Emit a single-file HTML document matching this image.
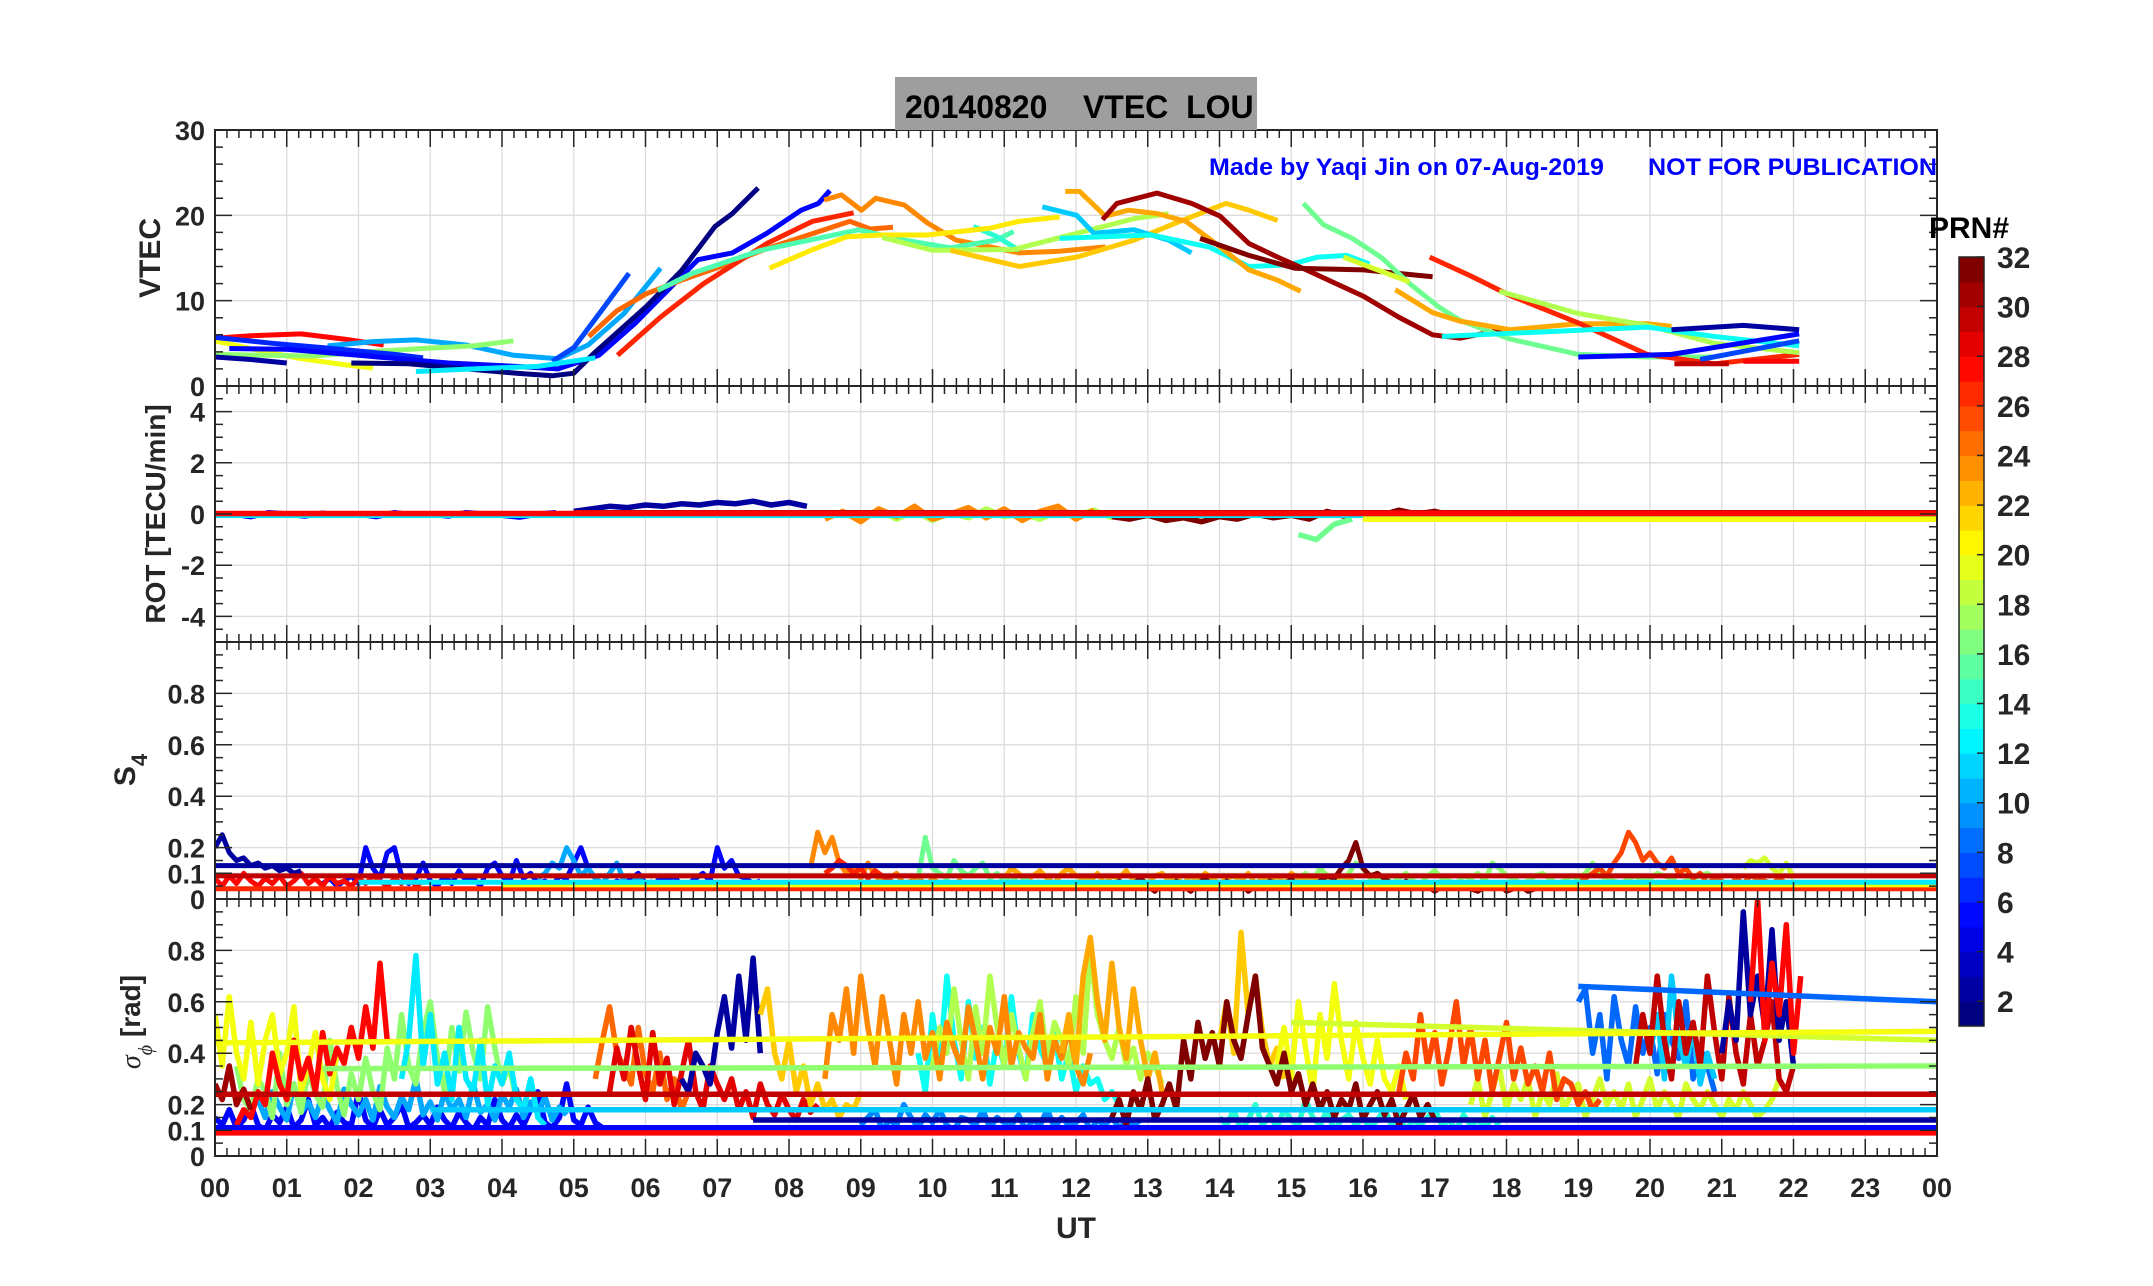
<!DOCTYPE html>
<html><head><meta charset="utf-8"><title>VTEC LOU 20140820</title>
<style>
html,body{margin:0;padding:0;background:#fff;}
svg{display:block;}
text{font-family:"Liberation Sans Narrow","Liberation Sans",sans-serif;font-weight:bold;}
</style></head>
<body>
<svg id="chart" xmlns="http://www.w3.org/2000/svg" width="2153" height="1286" viewBox="0 0 2153 1286">
<rect x="0" y="0" width="2153" height="1286" fill="#fff"/>
<g id="grid"></g>
<g id="series"></g>
<g id="axes"></g>
<g>
<rect x="895" y="77" width="362" height="53" fill="#9e9e9e"/>
<text x="905" y="118" font-size="32" fill="#000" style="font-family:'Liberation Sans',sans-serif" xml:space="preserve">20140820    VTEC  LOU</text>
</g>
<text x="1209" y="175" font-size="24" fill="#0000ff" textLength="395" lengthAdjust="spacingAndGlyphs">Made by Yaqi Jin on 07-Aug-2019</text>
<text x="1648" y="175" font-size="24" fill="#0000ff" textLength="289" lengthAdjust="spacingAndGlyphs" style="font-family:'Liberation Sans',sans-serif">NOT FOR PUBLICATION</text>
<text transform="translate(160,258) rotate(-90)" text-anchor="middle" font-size="30" fill="#262626" style="font-family:'Liberation Sans',sans-serif">VTEC</text>
<text transform="translate(165,514) rotate(-90)" text-anchor="middle" font-size="28" fill="#262626" style="font-family:'Liberation Sans',sans-serif">ROT [TECU/min]</text>
<text transform="translate(135,770) rotate(-90)" text-anchor="middle" font-size="30" fill="#262626" style="font-family:'Liberation Sans',sans-serif">S<tspan font-size="22" dy="12">4</tspan></text>
<text transform="translate(140,1022) rotate(-90)" text-anchor="middle" font-size="28" fill="#262626" style="font-family:'Liberation Sans',sans-serif"><tspan font-family="'Liberation Serif',serif" font-style="italic" font-weight="normal">σ</tspan><tspan font-size="20" dy="12" font-family="'Liberation Serif',serif" font-style="italic" font-weight="normal">ϕ</tspan><tspan dy="-12"> [rad]</tspan></text>
<text x="1076" y="1238" text-anchor="middle" font-size="30" fill="#262626" style="font-family:'Liberation Sans',sans-serif">UT</text>
<g id="cbar"></g>
<text x="1929" y="238" font-size="30" fill="#000" style="font-family:'Liberation Sans',sans-serif">PRN#</text>
</svg>
<script>
// ---------- data ----------
const hourTicks = ["00","01","02","03","04","05","06","07","08","09","10","11","12","13","14","15","16","17","18","19","20","21","22","23","00"];
const vtecTicks = [0,10,20,30];
const rotTicks = [-4,-2,0,2,4];
const rotTickLabels = ["-4","-2","0","2","4"];
const s4Ticks = [0,0.1,0.2,0.4,0.6,0.8];
const s4TickLabels = ["0","0.1","0.2","0.4","0.6","0.8"];
const sigTicks = [0,0.1,0.2,0.4,0.6,0.8];
const sigTickLabels = ["0","0.1","0.2","0.4","0.6","0.8"];
const cbarTicks = [2,4,6,8,10,12,14,16,18,20,22,24,26,28,30,32];

// VTEC arcs: [prn, [[hour, vtec], ...]]
const vtecPrn28a = [[0,5.6],[0.5,5.9],[1.2,6.1],[1.8,5.5],[2.35,4.8]];
const vtecPrn20a = [[0,5.3],[0.6,4.2],[1.2,3.2],[1.8,2.5],[2.2,2.1]];
const vtecPrn10a = [[1.57,4.7],[2.2,5.2],[2.8,5.4],[3.5,4.8],[4.16,3.6],[4.78,3.2],[5.2,4.8],[5.7,8.5],[6.21,13.8]];
const vtecPrn17a = [[0,3.7],[0.7,3.6],[1.36,3.5],[2.1,4.0],[2.9,4.4],[3.6,4.7],[4.16,5.3]];
const vtecPrn2a = [[0,3.4],[0.5,3.1],[1.0,2.7]];
const vtecPrn1a = [[1.9,2.7],[2.7,2.6],[3.5,2.0],[4.2,1.5],[4.7,1.2],[5.0,1.5],[5.29,3.9],[6.01,9.3],[6.5,13.5],[6.97,18.7],[7.21,20.2],[7.57,23.2]];
const vtecPrn6a = [[0,5.7],[0.8,5.0],[1.5,4.5],[2.0,4.1],[2.5,3.7],[2.9,3.3]];
const vtecPrn5a = [[0.2,4.4],[1.0,4.3],[2.0,3.6],[3.25,2.7],[4.2,2.3],[4.78,2.0],[5.35,3.6],[5.85,7.3],[6.73,14.8],[7.21,15.6],[7.69,17.9],[8.17,20.6],[8.41,21.4],[8.57,22.9]];
const vtecPrn7a = [[4.7,2.9],[5.0,4.5],[5.4,9.0],[5.77,13.2]];
const vtecPrn12a = [[2.8,1.7],[3.6,2.0],[4.5,2.3],[5.3,3.3]];
const vtecPrn25a = [[5.21,5.8],[5.6,8.8],[6.01,10.8],[6.5,12.4],[7.05,14.0],[7.69,16.1],[8.49,18.3],[8.85,19.3],[9.13,18.4],[9.45,18.6]];
const vtecPrn27a = [[5.61,3.6],[6.2,8.0],[6.81,12.0],[7.69,16.7],[8.33,19.3],[8.9,20.3]];
const vtecPrn24a = [[8.49,21.8],[8.73,22.4],[9.01,20.6],[9.21,22.0],[9.61,21.2],[9.93,19.1],[10.33,17.1],[11.21,15.6],[11.77,15.8],[12.41,16.3]];
const vtecPrn15a = [[6.17,11.2],[6.65,13.2],[7.61,15.9],[8.97,18.3],[9.61,17.1],[10.25,16.2],[10.89,17.1],[11.13,18.1]];
const vtecPrn14a = [[10.57,18.7],[10.9,17.5],[11.21,15.9]];
const vtecPrn21a = [[7.73,13.8],[8.33,16.0],[8.81,17.5],[9.29,17.7],[9.93,17.7],[10.81,18.5],[11.21,19.3],[11.77,19.8]];
const vtecPrn18a = [[9.3,17.4],[10.0,15.9],[11.13,16.0],[12.01,17.9],[12.81,19.6],[13.29,20.2]];
const vtecPrn22a = [[10.25,15.9],[11.21,14.0],[12.01,15.1],[12.81,17.1],[13.45,19.3],[14.09,21.4],[14.41,20.6],[14.81,19.4]];
const vtecPrn11a = [[11.53,21.0],[12.01,20.0],[12.25,17.9],[12.81,18.3],[13.29,17.1],[13.61,15.6]];
const vtecPrn13a = [[11.77,17.3],[13.05,17.7],[13.85,16.3],[14.41,14.0],[14.97,14.2],[15.37,15.1],[15.77,15.3],[16.09,14.3]];
const vtecPrn23a = [[11.85,22.8],[12.05,22.8],[12.41,19.9],[12.73,20.6],[13.13,20.2],[13.53,19.3],[14.01,16.3],[14.41,13.6],[14.81,12.4],[15.13,11.1]];
const vtecPrn31a = [[12.37,19.5],[12.57,21.4],[13.13,22.6],[13.61,21.4],[14.01,19.9],[14.41,16.7],[14.81,15.1],[15.21,13.6],[16.01,10.5],[16.49,8.1],[16.97,6.0],[17.35,5.6],[17.95,6.6]];
const vtecPrn32a = [[13.73,17.3],[14.41,15.3],[15.05,13.8],[16.01,13.6],[16.97,12.8]];
const vtecPrn16a = [[15.17,21.4],[15.45,18.9],[15.85,17.3],[16.25,15.1],[16.65,12.0],[17.05,9.3],[17.35,7.7],[18.05,5.5],[19.0,3.7],[19.96,3.4],[20.9,3.4]];
const vtecPrn19a = [[15.73,15.1],[16.65,12.2]];
const vtecPrn23b = [[16.45,11.3],[16.97,8.6],[17.35,7.6],[18.05,6.6],[19.0,7.3],[19.96,7.3],[20.3,7.0]];
const vtecPrn27b = [[16.93,15.1],[17.5,12.9],[18.05,10.6],[19.0,7.4],[19.96,3.7],[20.9,2.6],[22.08,3.7]];
const vtecPrn18b = [[17.9,11.1],[19.0,8.5],[19.96,7.1],[20.9,5.0],[22.08,3.9]];
const vtecPrn13b = [[17.1,5.8],[18.4,6.3],[19.96,6.9],[20.9,5.8],[22.08,4.7]];
const vtecPrn2b = [[20.3,6.6],[21.3,7.1],[22.08,6.6]];
const vtecPrn5b = [[19.0,3.4],[20.3,3.7],[22.08,6.1]];
const vtecPrn7b = [[20.7,3.1],[22.08,5.3]];
const vtecPrn30a = [[20.34,2.6],[21.1,2.6]];
const vtecPrn28b = [[21.3,2.9],[22.08,2.9]];
const vtecArcs = [[28,vtecPrn28a],[20,vtecPrn20a],[10,vtecPrn10a],[17,vtecPrn17a],[2,vtecPrn2a],[6,vtecPrn6a],[5,vtecPrn5a],[1,vtecPrn1a],[7,vtecPrn7a],[12,vtecPrn12a],[25,vtecPrn25a],[27,vtecPrn27a],[24,vtecPrn24a],[15,vtecPrn15a],[14,vtecPrn14a],[21,vtecPrn21a],[18,vtecPrn18a],[22,vtecPrn22a],[11,vtecPrn11a],[13,vtecPrn13a],[23,vtecPrn23a],[31,vtecPrn31a],[32,vtecPrn32a],[16,vtecPrn16a],[19,vtecPrn19a],[23,vtecPrn23b],[27,vtecPrn27b],[18,vtecPrn18b],[13,vtecPrn13b],[2,vtecPrn2b],[5,vtecPrn5b],[7,vtecPrn7b],[30,vtecPrn30a],[28,vtecPrn28b]];

// ROT (TECU/min x100), sampled every 0.25 h from start hour
const rotPrn5 = [-5,0,-10,5,0,-8,3,-5,0,-10,5,-3,0,-8,5,0,-5,-12,0,5];
const rotPrn2 = [10,20,30,25,35,30,40,35,45,40,50,35,45,30];
const rotPrn24 = [-20,10,-30,20,-10,30,-20,0,25,-15,20,-25,10,30,-20,15];
const rotPrn32 = [-10,-20,-5,-25,-15,-30,-10,-20,0,-15,-5,-20,10,-10,5,-5,15,0,10,-5,5,0];
const rotPrn16 = [-80,-100,-40,-20];
const rotPrn18 = [-10,15,-20,10,-25,5,-15,20,-10,0,-20,10,-5,15,-15];
const rotSeries = [[5,0,rotPrn5],[2,5,rotPrn2],[18,9,rotPrn18],[24,8.5,rotPrn24],[32,12.5,rotPrn32],[16,15.1,rotPrn16]];
const rotMeans = [[12,0,-0.05,24,-0.05],[20,16,-0.2,24,-0.2],[30,5,0.05,24,0.05],[28,0,0.02,24,0.02]];

// S4 (x100), every 0.1 h from start hour
const s4Prn2 = [20,25,18,15,16,13,14,12,13,11,12,10,11];
const s4Prn5 = [6,8,5,7,9,6,20,12,8,18,20,9,6,8,14,7,5,9,6,11,7,8,5,12,14,9,6,15,8,10,6,7,5,9,8,14,20,12,8,6,5,7,6,8,10,6,5,8,7,9,5,6,8,10,7,20,12,15,9,8,6,7];
const s4Prn10 = [8,10,14,12,20,15,9,12,8,6,10,14,7,6,9,5,7];
const s4Prn28 = [8,5,9,6,10,7,5,8,6,9,5,7,10,6,8,5,9,6,7,5,8,6,9,7,5,8,6,9,5,7];
const s4Prn24 = [12,26,18,24,14,10,12,8,14,9,7,8,10,6,7,9,5,8,6,7,5,8];
const s4Prn27 = [10,12,15,13,10,12,8,11,9,7,6];
const s4Prn16 = [8,24,12,10,8,15,11,9,12,14,8,10,7,9,6,8,5,7];
const s4Prn23 = [8,12,10,7,9,11,8,6,10,12,9,8,7,10,6,9,8,11,7,8,6,9,10,7,8,6,9,7,10,8,6,8,9,7,10,6,8,7,9,6,10,8,7,9,6,8,7,9,8,6];
const s4Prn32 = [5,7,4,6,8,5,3,6,4,7,5,3,6,8,5,4,7,5,6,3,5,4,7,6,5,8,4,6,5,7,9,8,12,15,22,12,9,10,8,6,5,7,4,6,5,3,5,4,6,5,4,3,5,4,6,3,4,5,3,4,5];
const s4Prn26 = [6,8,10,12,9,14,18,26,22,15,18,14,12,16,10,12,8,10,6,8,7,5,8,6,9,8,7,6,8,6,5];
const s4Prn19 = [12,15,14,16,12,10,14,8];
const s4Prn17 = [6,8,10,7,12,9,8,6,10,14,12,8,7,9,6,8,10,7,6,9,11,8,7,6,9,8,10,7,14,12,9,8,6,7,9,10,8,6,7,9,8,10,14,9,8,7,6,8,9,7,8,10,9,8,6,7,8,9,10,8];
const s4Series = [[17,15,s4Prn17],[5,1.5,s4Prn5],[10,4.5,s4Prn10],[28,0,s4Prn28],[23,11,s4Prn23],[32,12.5,s4Prn32],[2,0,s4Prn2],[24,8.3,s4Prn24],[27,8.5,s4Prn27],[16,9.8,s4Prn16],[26,19,s4Prn26],[19,21.3,s4Prn19]];
const s4Means = [[27,0,0.04,24,0.04],[20,4,0.055,24,0.055],[12,2,0.065,24,0.065],[30,0,0.09,24,0.09],[2,0,0.13,24,0.13]];

// sigma-phi (x100), every 0.1 h from start hour
const sigPrn5 = [15,12,18,11,14,20,12,10,16,13,19,11,14,22,12,15,11,17,13,12,25,14,11,18,12,15,20,11,13,16,12,19,14,11,17,13,10,15,12,22,14,11,16,12,18,25,13,11,15,28,14,12,19,13,11];
const sigPrn10 = [18,22,15,25,19,14,28,17,21,15,24,18,13,26,20,16,22,14,27,19,15,23,18,30,16,21,14,25,18,22,15,28,17,20,14,24,19,26,15,21,17,23,14,19,16];
const sigPrn17 = [35,22,18,30,25,15,40,20,28,17,33,24,19,45,27,16,32,22,38,25,18,42,30,55,35,28,48,60,38,25,50,33,56,40,30,58,42,28,35,22,18];
const sigPrn20a = [55,35,62,40,30,52,28,45,55,32,40,58,25,35,48,30,22,40];
const sigPrn28a = [12,18,15,25,20,40,28,22,45,30,38,25,48,32,42,36,50,38,58,42,75,45];
const sigPrn12 = [30,45,78,35,55,28,40,22,50,30,25,45,20,35,28,40,22,18,30,15,12];
const sigPrn31 = [28,22,35,20,26,18];
const sigPrn25 = [30,45,58,40,35,28,50,32,25,40,22,30,18,25];
const sigPrn29 = [25,42,30,50,35,22,48,28,38,20,32,45,25,18,35,28,22,30,18,25,15,28,20,16,24,18,14,22,17,20];
const sigPrn2a = [30,25,40,35,28,48,62,42,70,45,77,40];
const sigPrn22a = [55,65,40,30,45,25,35,20,28,18,22,15,20,18,25];
const sigPrn24 = [30,55,45,65,40,70,50,35,62,45,28,55,40,60,38,48,30,52,42,35,58,45,30,50,40,62,35,48,42,38,55,30,45,38,50,35,28,40];
const sigPrn13 = [40,25,55,35,70,45,30,60,38,50,28,45,35,62,40,30,55,42,35,48,30,40,25,35,28,30,22,25,20];
const sigPrn18 = [35,50,40,65,45,30,58,40,70,50,35,55,42,30,48,60,38,52,45,35,62,40,80,55,45,38,50,35,42,30,40,35,28];
const sigPrn23 = [40,55,35,70,85,60,45,75,50,38,65,45,30,40,25];
const sigPrn32 = [15,22,12,25,18,30,14,20,28,18,45,30,52,38,48,35,60,45,38,55,70,42,35,28,40,25,32,20,28,18,25,15,22,18,28,14,20,25,16,22,12,18,24,15,20,14];
const sigPrn22b = [45,60,40,87,55,70,48,35,42,30];
const sigPrn20b = [35,50,30,60,42,25,55,38,67,45,30,52,38,28,45,30,25,35,22];
const sigPrn26 = [25,40,30,55,35,48,28,42,60,35,50,30,45,25,38,52,30,42,28,35,25,40,22,30,28,20,25,18,22];
const sigPrn8 = [60,65,40,55,30,62,45,35,58,40,50,32,55,45,38,60,30,42,35,25];
const sigPrn11 = [40,55,30,70,45,35,50,28,40,30];
const sigPrn30 = [35,55,40,70,45,30,60,40,52,35,70,48,30,62,40,28,55,35,45,60,30,25,35];
const sigPrn2b = [40,60,45,95,55,70,50,88,45,60,35];
const sigPrn28b = [60,100,45,75,55,90,40,70];
const sigPrn19 = [20,30,15,25,35,18,28,22,30,15,25,20,32,18,24,28,15,22,30,20,25,18,28,15,22,30,18,25,20,15,28,22,18,25,20,15,22,18,25,20,15,18,22,30];
const sigPrn14 = [15,12,18,10,14,20,12,16,11,18,14,12,22,15,12,18,10,14,16,12,15,11,14,18,12,16,10,14,12,15,18,12,14,10,16,12,14,11,15,12];
const sigPrn9 = [12,15,18,10,14,12,20,15,11,16,13,18,12,10,15,14,12,18,11,15,13,12,16,10,14,12,18,11,15,12,13,16,10,14,12,15,11,13,12,14];
const sigSeries = [[5,0,sigPrn5],[10,0.5,sigPrn10],[17,0.3,sigPrn17],[20,0,sigPrn20a],[12,2.6,sigPrn12],[28,0.3,sigPrn28a],[31,0,sigPrn31],[9,9,sigPrn9],[14,14,sigPrn14],[19,17.5,sigPrn19],[25,5.3,sigPrn25],[29,5.5,sigPrn29],[2,6.5,sigPrn2a],[22,7.6,sigPrn22a],[13,9.8,sigPrn13],[18,10,sigPrn18],[24,8.5,sigPrn24],[23,11.8,sigPrn23],[22,14,sigPrn22b],[20,14.8,sigPrn20b],[32,12.5,sigPrn32],[26,16.5,sigPrn26],[8,19,sigPrn8],[11,20,sigPrn11],[30,19.8,sigPrn30],[2,21,sigPrn2b],[28,21.4,sigPrn28b]];
const sigMeans = [[17,1.5,0.34,24,0.35],[19,15,0.52,24,0.45],[20,0,0.44,24,0.485],[8,19,0.66,24,0.6],[11,3,0.18,24,0.18],[2,7.5,0.14,24,0.14],[5,0,0.11,24,0.11],[30,0,0.24,24,0.24],[28,0,0.09,24,0.09]];

// ---------- layout ----------
const X0 = 215, X1 = 1937;
const panels = [
  {top:130, bot:386, min:0, max:30, name:'vtec'},
  {top:386, bot:642, min:-5, max:5, name:'rot'},
  {top:642, bot:899, min:0, max:1, name:'s4'},
  {top:899, bot:1156, min:0, max:1, name:'sigma-phi'}
];
const NS = 'http://www.w3.org/2000/svg';
function xS(h){ return X0 + h*(X1-X0)/24; }
function yS(p, v){ return p.bot - (v-p.min)/(p.max-p.min)*(p.bot-p.top); }
function jet(p){
  const v = (p-1)/31;
  const c = t => Math.round(255*Math.max(0, Math.min(1, t)));
  return 'rgb('+c(Math.min(4*v-1.5,-4*v+4.5))+','+c(Math.min(4*v-0.5,-4*v+3.5))+','+c(Math.min(4*v+0.5,-4*v+2.5))+')';
}
function mk(tag, attrs, parent){
  const el = document.createElementNS(NS, tag);
  for (const k in attrs) el.setAttribute(k, attrs[k]);
  parent.appendChild(el);
  return el;
}
const gGrid = document.getElementById('grid');
const gSer = document.getElementById('series');
const gAx = document.getElementById('axes');
const gCb = document.getElementById('cbar');

const defs = mk('defs', {}, document.getElementById('chart'));
panels.forEach((p,i)=>{
  const cp = mk('clipPath', {id:'clip'+i}, defs);
  mk('rect', {x:X0, y:p.top, width:X1-X0, height:p.bot-p.top}, cp);
});

const yTickSets = [vtecTicks, rotTicks, s4Ticks, sigTicks];
const yLabelSets = [vtecTicks.map(String), rotTickLabels, s4TickLabels, sigTickLabels];
const yMinorStep = [2, 0.5, 0.05, 0.05];
panels.forEach((p,i)=>{
  for (let h=1; h<24; h++){
    const gl = mk('line', {x1:xS(h), x2:xS(h), y1:p.top, y2:p.bot, stroke:'#dcdcdc', 'stroke-width':1.3}, gGrid);
    
    
  }
  yTickSets[i].forEach(v=>{
    if (v===p.min) return;
    const gl = mk('line', {x1:X0, x2:X1, y1:yS(p,v), y2:yS(p,v), stroke:'#dcdcdc', 'stroke-width':1.3}, gGrid);
    
    
  });
  const fr = mk('rect', {x:X0, y:p.top, width:X1-X0, height:p.bot-p.top, fill:'none', stroke:'#262626', 'stroke-width':2}, gAx);
  
  
  let d = '';
  for (let m=0; m<=144; m++){
    const x = xS(m/6);
    const L = (m%6===0) ? 17 : 8;
    d += 'M'+x+' '+p.top+'v'+L+'M'+x+' '+p.bot+'v'+(-L);
  }
  const nMin = Math.round((p.max-p.min)/yMinorStep[i]);
  for (let k=0;k<=nMin;k++){
    const v = p.min + k*yMinorStep[i];
    const major = yTickSets[i].some(t=>Math.abs(t-v)<1e-6);
    const L = major ? 17 : 8;
    const y = yS(p, v);
    d += 'M'+X0+' '+y+'h'+L+'M'+X1+' '+y+'h'+(-L);
  }
  const tk = mk('path', {d:d, stroke:'#262626', 'stroke-width':1.5, fill:'none'}, gAx);
  
  
  yTickSets[i].forEach((v,j)=>{
    const t = mk('text', {x:X0-10, y:yS(p,v)+10, 'text-anchor':'end', 'font-size':27, fill:'#262626'}, gAx);
    t.textContent = yLabelSets[i][j];
    
    
  });
});
hourTicks.forEach((lab,h)=>{
  const t = mk('text', {x:xS(h), y:1197, 'text-anchor':'middle', 'font-size':27, fill:'#262626'}, gAx);
  t.textContent = lab;
  
  
});

function polyPts(p, pts){ return pts.map(q=>xS(q[0]).toFixed(1)+','+yS(p,q[1]).toFixed(1)).join(' '); }
function drawLine(pi, prn, pts, w, name){
  const p = panels[pi];
  const el = mk('polyline', {points:polyPts(p,pts), fill:'none', stroke:jet(prn), 'stroke-width':w, 'stroke-linejoin':'round', 'stroke-linecap':'butt', 'clip-path':'url(#clip'+pi+')'}, gSer);
  
  
}
vtecArcs.forEach(a=>{
  drawLine(0, a[0], a[1], 5, 'vtec-prn'+a[0]+'-arc');
});
function sampled(start, step, vals, scale){ return vals.map((v,k)=>[start+k*step, v/scale]); }
rotSeries.forEach(s=>{ drawLine(1, s[0], sampled(s[1],0.25,s[2],100), 5.5, 'rot-prn'+s[0]+'-series'); });
rotMeans.forEach(m=>{ drawLine(1, m[0], [[m[1],m[2]],[m[3],m[4]]], 5.5, 'rot-prn'+m[0]+'-level'); });
s4Series.forEach(s=>{ drawLine(2, s[0], sampled(s[1],0.1,s[2],100), 5, 's4-prn'+s[0]+'-series'); });
s4Means.forEach(m=>{ drawLine(2, m[0], [[m[1],m[2]],[m[3],m[4]]], 5, 's4-prn'+m[0]+'-level'); });
sigSeries.forEach(s=>{ drawLine(3, s[0], sampled(s[1],0.1,s[2],100), 5.5, 'sigma-phi-prn'+s[0]+'-series'); });
sigMeans.forEach(m=>{ drawLine(3, m[0], [[m[1],m[2]],[m[3],m[4]]], 5.5, 'sigma-phi-prn'+m[0]+'-level'); });

const CB = {x:1959, w:25, top:257, bot:1026, min:1, max:32};
function cbY(v){ return CB.bot - (v-CB.min)/(CB.max-CB.min)*(CB.bot-CB.top); }
for (let k=0;k<31;k++){
  const v = (k/30)*31+1;
  const r = mk('rect', {x:CB.x, y:cbY(k+2), width:CB.w, height:cbY(k+1)-cbY(k+2)+0.6, fill:jet(v)}, gCb);
  
  
}
const cbf = mk('rect', {x:CB.x, y:CB.top, width:CB.w, height:CB.bot-CB.top, fill:'none', stroke:'#262626', 'stroke-width':1.5}, gCb);


cbarTicks.forEach(v=>{
  const tl = mk('line', {x1:CB.x+CB.w-7, x2:CB.x+CB.w, y1:cbY(v), y2:cbY(v), stroke:'#262626', 'stroke-width':1.5}, gCb);
  
  
  const t = mk('text', {x:1997, y:cbY(v)+11, 'font-size':30, fill:'#262626', style:"font-family:'Liberation Sans',sans-serif"}, gCb);
  t.textContent = String(v);
  
  
});
</script>
</body></html>
